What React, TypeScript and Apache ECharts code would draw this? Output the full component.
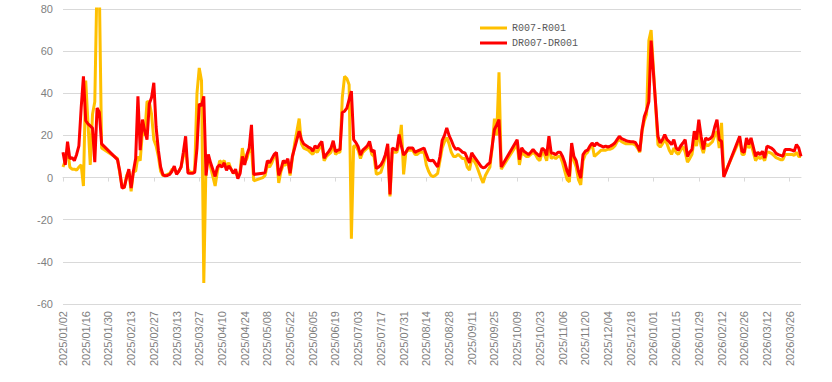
import React, { useEffect, useRef } from "react";
import * as echarts from "echarts";

// Category axis: trading weekdays starting from this date
const startDate = [2025, 1, 2];
const dayCount = 326;

const seriesNames = ["R007-R001", "DR007-DR001"];
const seriesColors = ["#FFC000", "#FF0000"];

const yTicks = { min: -60, max: 80, interval: 20 };

// R007-R001 (bp), null = holiday
const r007Spread: (number | null)[] = [
  5, 8, 14, 5, 4, 4, 3.5, 5, 6, -4,
  46, 26, 6, 30, 36, 95, 90, 14, null, null,
  null, null, null, null, 9, 2, -4, -5, 1, 3,
  -6.5, 3, 3, 10, 8, 22, 20, 36, 36, 30,
  18, 15, 10, 3, 1, 1, 1.5, 2, 4, 4,
  2, 3, 5, 10, 14, 4, 2.5, 2.5, 3, 40,
  52, 46, -50, 8, 9, 5, null, -4, 3, 8,
  7, 8, 5, 7, 4, 2, 3, 0, 3, 14,
  7, 9, 13, 14, -1.5, null, null, null, 0, 1,
  6, 5, 7, 10, 11, -2.5, 3, 6, 6, 8,
  1, 9, 16, 22, 28, 16, 14, null, 13, 12,
  11, 13, 12, 14, 16, 8, 10, 11, 12, 16,
  11, 12, 12, 38, 48, 47, 44, -29, 15, 15,
  13, 9, 12, 13, 14, 15, 11, 10, 1.5, 2,
  2.5, 6, 10, 15, -9, 12, 12, 12, 16, 25,
  1.5, 12, 13, 13, 13, 11, 11, 12, 12, 12,
  6, 3, 1, 0.5, 1, 2, 8, 14, 17, 19,
  16, 12, 10, 10, 11, 10, 9, 9, 5, 3.5,
  9, 8, 6, 3, 0, -2.5, 1, 3, 5, 14,
  28, 20, 50, 4, null, null, null, null, null, null,
  16, 6, 12, 11, 10, 10, 11, 12, 11, 9,
  8, 12, 11, 8, 15, 9, 10, 9, 10, 10,
  7, 3, -1, -2, 14, 8, 5, -1, -3.5, 8,
  11, 12, 14, 16, 10, 11, 12, 13, 13, 13,
  13.5, 13.5, 14, 15, 17, 18, 17, 16.5, 16, 16,
  16, 16, 15.5, 14, 12, 22, 27, 30, 65, 70,
  null, null, 15.6, 14.5, 16, 18, 16, 13, 11, 14,
  12, 11, 13, 14.9, 12, 7.3, 9, 11, 18, 15,
  22, 15, 11.6, 16, 15, 16, 17, 20, 22, 14,
  26, 1, null, null, null, null, null, null, 18, 11,
  11, 17, 14, 16, 12, 8, 10, 9, 10, 8,
  12, 12, 11.5, 10.5, 9.5, 9, 8.5, 8.5, 11, 11,
  11, 11, 10.5, 12, 10, 10,
];

// DR007-DR001 (bp), null = holiday
const dr007Spread: (number | null)[] = [
  12, 6, 17, 9, 9.5, 8, 11, 15, 33, 48,
  27, 25.5, 24.5, 23.5, 7.3, 33, 31, 16, null, null,
  null, null, null, null, 8.5, 3, -5, -4.5, 0, 4,
  -5, 3, 9, 38.6, 13, 27.5, 22, 18, 35, 38,
  45, 24, 13, 5, 1.4, 0.8, 1, 1.5, 3, 5.4,
  1.5, 3, 5, 12, 19.6, 2.2, 2, 2, 2.5, 14,
  35, 34, 38.6, 1, 11, 7, null, 0.5, 5, 6,
  5, 7, 3.5, 5.5, 4, 2, 4, -0.5, 2, 10,
  6, 11, 14, 25, 1.5, null, null, null, 2, 2.5,
  8, 7, 9, 11, 12, 1, 4, 8, 7, 9,
  2, 10, 14, 18, 22, 18, 16, null, 14.5, 14,
  12.5, 15, 14, 15.7, 17.2, 9.2, 11, 12.3, 14, 17.5,
  12.3, 13, 13.3, 30.9, 31.5, 33, 37, 41, 18, 16.6,
  14.6, 10.7, 13, 14, 15, 17.2, 12.3, 13, 4.3, 5,
  6, 8, 11, 16, -8, 14, 13.5, 13, 20.4, 15,
  10.7, 12, 14, 14, 14, 12, 12.5, 13, 13.5, 14,
  11, 8.2, 8, 8.2, 6.6, 5, 10, 17.7, 20, 23.6,
  20, 17.7, 15, 13.3, 13.9, 13, 12, 11.7, 9.3, 7,
  11.7, 10, 8.5, 7, 5.4, 4.6, 5, 6.2, 7, 14.9,
  22.8, 25, 27.5, 5, null, null, null, null, null, null,
  18, 8.5, 14.1, 12.5, 11.7, 10.9, 12, 13.3, 12, 11,
  10, 14, 13, 10.5, 19.6, 11.7, 11.5, 10.9, 12, 12,
  10, 7, 3, 0.6, 16.4, 10, 8, 3, -0.2, 10.9,
  12.5, 13, 14.9, 16.4, 15, 16.4, 15.5, 15, 14.5, 14.9,
  14.5, 14.9, 15.5, 16.4, 18, 19.6, 18.5, 18, 17.5, 17.2,
  17, 17, 16.7, 15, 12.5, 22.7, 29, 32, 36, 65,
  null, null, 19.6, 16.4, 18, 20.4, 18, 17, 15.6, 18,
  14.1, 13, 15, 16.4, 18, 10, 12, 13.3, 22, 18,
  27.5, 19.6, 13.3, 18.8, 18, 18.5, 19.6, 24, 27.5, 18,
  17.2, 0.3, null, null, null, null, null, null, 19.6, 12.5,
  12, 18.8, 15.7, 18.8, 14.5, 10.1, 12, 10.9, 12.5, 9.3,
  14.9, 14.5, 14, 13, 11.5, 10.9, 10.5, 10.1, 13.3, 13.3,
  13.3, 13, 12.5, 15.7, 14.1, 10.1,
];

function buildWeekdays(start: number[], n: number): string[] {
  const out: string[] = [];
  const d = new Date(Date.UTC(start[0], start[1] - 1, start[2]));
  while (out.length < n) {
    const wd = d.getUTCDay();
    if (wd !== 0 && wd !== 6) {
      const m = String(d.getUTCMonth() + 1).padStart(2, "0");
      const day = String(d.getUTCDate()).padStart(2, "0");
      out.push(`${d.getUTCFullYear()}/${m}/${day}`);
    }
    d.setUTCDate(d.getUTCDate() + 1);
  }
  return out;
}

const categories = buildWeekdays(startDate, dayCount);

export default function App() {
  const ref = useRef<HTMLDivElement>(null);
  useEffect(() => {
    if (!ref.current) return;
    const chart = echarts.init(ref.current, undefined, { renderer: "svg" });
    const axisText = { color: "#7f7f7f", fontSize: 11, fontFamily: "Liberation Sans" };
    chart.setOption({
      animation: false,
      backgroundColor: "#ffffff",
      grid: { left: 63, right: 31, top: 9, bottom: 78, containLabel: false },
      legend: {
        orient: "vertical",
        left: 475,
        top: 18,
        itemWidth: 27,
        itemHeight: 3,
        itemGap: 5,
        icon: "rect",
        data: seriesNames,
        textStyle: { color: "#595959", fontSize: 10, fontFamily: "Liberation Mono" },
      },
      xAxis: [
        {
          type: "category",
          data: categories,
          boundaryGap: false,
          position: "bottom",
          axisLine: { show: false, onZero: false },
          axisTick: { show: false },
          axisLabel: { ...axisText, rotate: 90, interval: 9, margin: 7 },
          splitLine: { show: false },
        },
        {
          type: "category",
          data: categories,
          boundaryGap: false,
          position: "top",
          axisLine: { show: true, onZero: true, lineStyle: { color: "#d9d9d9", width: 1 } },
          axisTick: { show: true, inside: true, length: 4, interval: 19, lineStyle: { color: "#d9d9d9" } },
          axisLabel: { show: false },
          splitLine: { show: false },
        },
      ],
      yAxis: {
        type: "value",
        min: yTicks.min,
        max: yTicks.max,
        interval: yTicks.interval,
        axisLine: { show: false },
        axisTick: { show: false },
        axisLabel: { ...axisText, margin: 10 },
        splitLine: { lineStyle: { color: "#d9d9d9", width: 1 } },
      },
      series: [
        {
          name: seriesNames[0],
          type: "line",
          data: r007Spread,
          symbol: "none",
          connectNulls: true,
          clip: true,
          lineStyle: { color: seriesColors[0], width: 3 },
          itemStyle: { color: seriesColors[0] },
        },
        {
          name: seriesNames[1],
          type: "line",
          data: dr007Spread,
          symbol: "none",
          connectNulls: true,
          clip: true,
          lineStyle: { color: seriesColors[1], width: 3 },
          itemStyle: { color: seriesColors[1] },
        },
      ],
    });
    return () => chart.dispose();
  }, []);
  return (
    <div
      ref={ref}
      style={{ position: "absolute", left: 0, top: 0, width: 832, height: 382 }}
    />
  );
}
